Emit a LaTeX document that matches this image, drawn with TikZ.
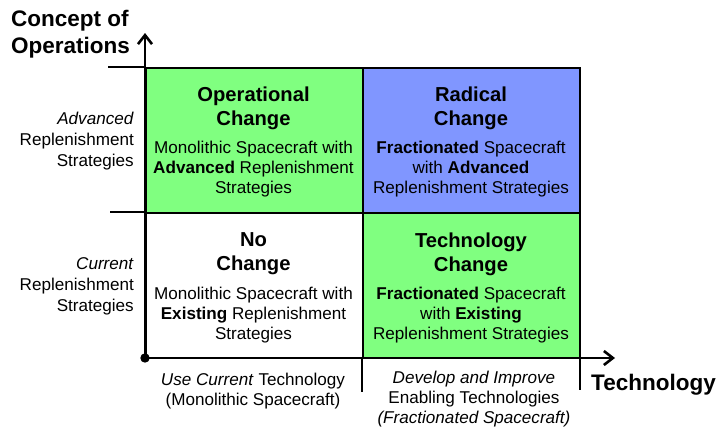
\documentclass[tikz,border=0pt]{standalone}
\usepackage{fontspec}
\setmainfont{Liberation Sans}
\usetikzlibrary{arrows.meta}
\definecolor{qGreen}{HTML}{80FF80}
\definecolor{qBlue}{HTML}{8096FF}
\begin{document}
\begin{tikzpicture}[x=1pt, y=-1pt,
        quad/.style={draw=black, line width=1.8pt, anchor=north west, inner sep=0pt,
                     minimum width=217pt, minimum height=145pt},
        head/.style={align=center, inner sep=0pt, font=\fontsize{20.2}{24}\selectfont\bfseries},
        body/.style={align=center, inner sep=0pt, font=\fontsize{17.1}{20.3}\selectfont},
        side/.style={align=right, inner sep=0pt, anchor=east, font=\fontsize{17.1}{21}\selectfont},
        title/.style={inner sep=0pt, font=\fontsize{22.5}{27}\selectfont\bfseries},
        axis/.style={line width=2.8pt, -{Straight Barb[length=9pt, width=14pt, line width=2.6pt]}},
        tick/.style={line width=1.5pt}]
        \useasboundingbox (0,0) rectangle (726,431);
        % quadrants
        \node[quad, fill=qGreen] (opchg)   at (145,67)  {};
        \node[quad, fill=qBlue]  (radchg)  at (362,67)  {};
        \node[quad, fill=white]  (nochg)   at (145,212) {};
        \node[quad, fill=qGreen] (techchg) at (362,212) {};
        \node[head] (opH)   at (253.5,108) {Operational\\Change};
        \node[body] (opB)   at (253.5,169) {Monolithic Spacecraft with\\\textbf{Advanced} Replenishment\\Strategies};
        \node[head] (radH)  at (471,108)   {Radical\\Change};
        \node[body] (radB)  at (471,169)   {\textbf{Fractionated} Spacecraft\\with \textbf{Advanced}\\Replenishment Strategies};
        \node[head] (noH)   at (253.5,254) {No\\Change};
        \node[body] (noB)   at (253.5,315) {Monolithic Spacecraft with\\\textbf{Existing} Replenishment\\Strategies};
        \node[head] (techH) at (471,254)   {Technology\\Change};
        \node[body] (techB) at (471,315)   {\textbf{Fractionated} Spacecraft\\with \textbf{Existing}\\Replenishment Strategies};
        % ticks
        \coordinate (t1a) at (108,67);  \coordinate (t1b) at (145,67);
        \coordinate (t2a) at (110,212); \coordinate (t2b) at (145,212);
        \coordinate (t3a) at (362,358); \coordinate (t3b) at (362,392);
        \coordinate (t4a) at (580,358); \coordinate (t4b) at (580,390);
        \draw[tick] (t1a) -- (t1b);
        \draw[tick] (t2a) -- (t2b);
        \draw[tick] (t3a) -- (t3b);
        \draw[tick] (t4a) -- (t4b);
        % axes
        \coordinate (O) at (145,358);
        \coordinate (ytip) at (145,33);
        \coordinate (xtip) at (615,358);
        \draw[axis] (O) -- (ytip);
        \draw[axis] (O) -- (xtip);
        \fill (O) circle (4.7);
        % axis labels
        \node[title, align=left, anchor=west] (conops) at (11,34.5) {Concept of\\Operations};
        \node[title, anchor=west] (techno) at (591,385) {Technology};
        \node[side] (adv) at (134,141) {\textit{Advanced}\\Replenishment\\Strategies};
        \node[side] (cur) at (134,286) {\textit{Current}\\Replenishment\\Strategies};
        \node[body] (usecur) at (253,391) {\textit{Use Current} Technology\\(Monolithic Spacecraft)};
        \node[body] (devimp) at (474,399) {\textit{Develop and Improve}\\Enabling Technologies\\\textit{(Fractionated Spacecraft)}};
\end{tikzpicture}
\end{document}
